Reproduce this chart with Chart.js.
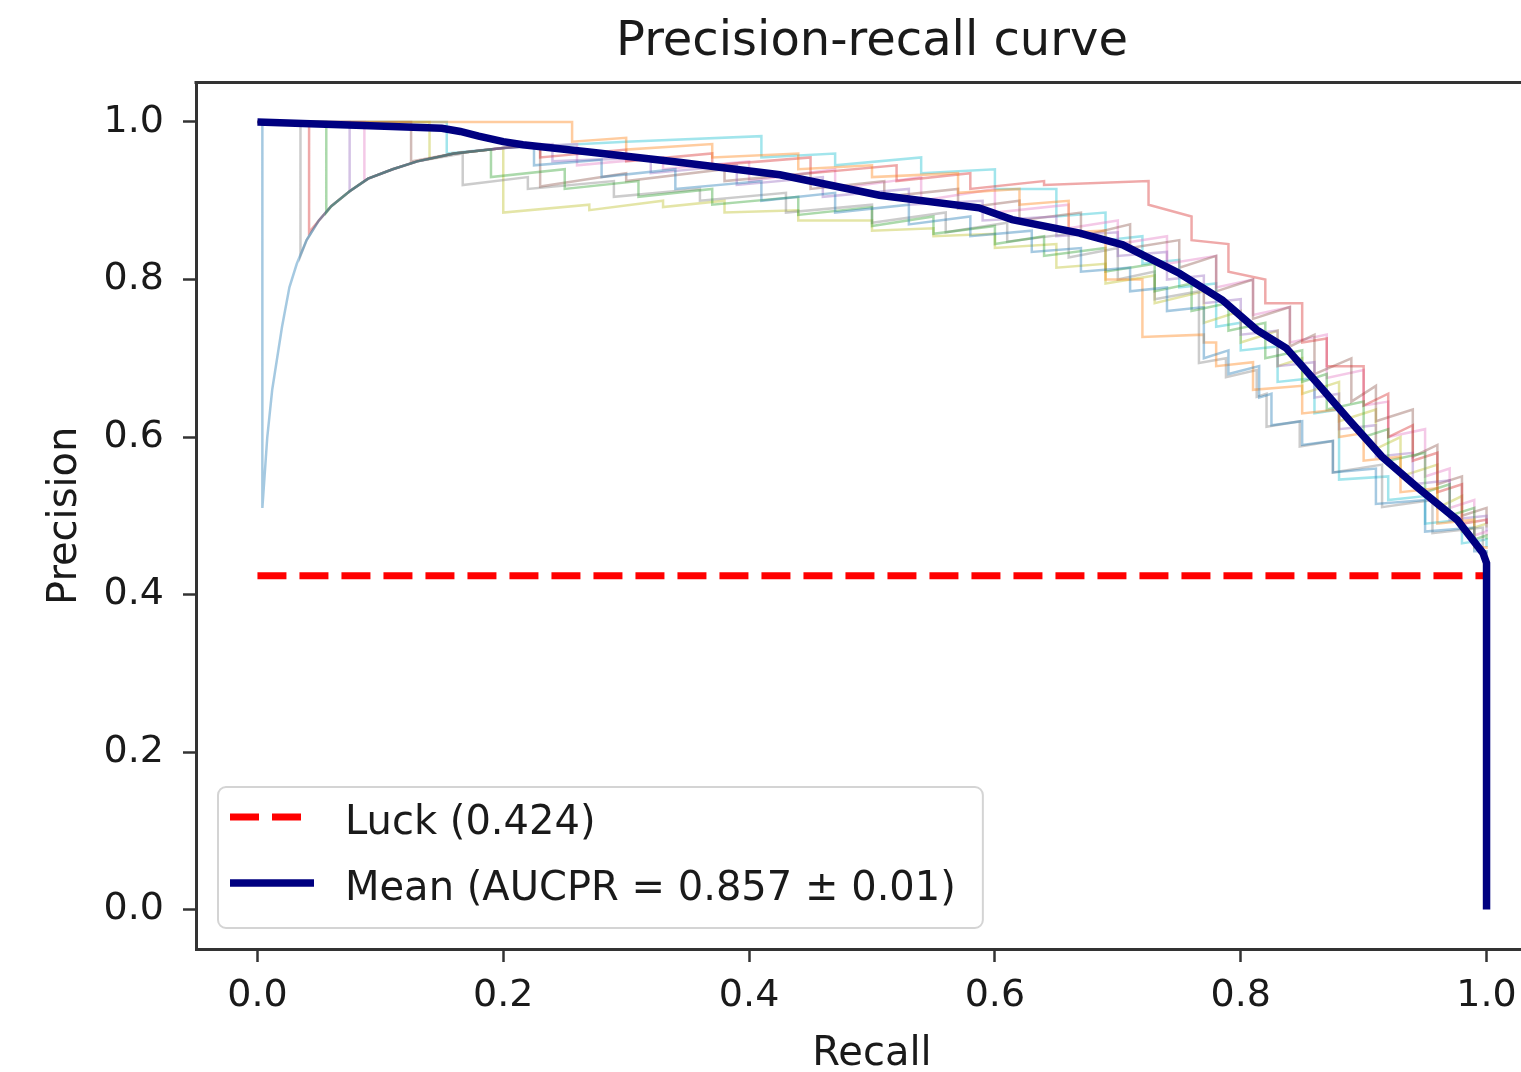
<!DOCTYPE html>
<html>
<head>
<meta charset="utf-8">
<title>Precision-recall curve</title>
<script src="https://cdn.jsdelivr.net/npm/chart.js@4.4.0/dist/chart.umd.min.js"></script>
<style>
  html, body { margin: 0; padding: 0; background: #fff; overflow: hidden; }
  #wrap { width: 1521px; height: 1072px; overflow: hidden; position: relative; }
  canvas { display: block; }
</style>
</head>
<body>
<div id="wrap"><canvas id="prChart" width="1560" height="1072"></canvas></div>
<script>
const ctxPR = document.getElementById("prChart").getContext("2d");

const tickValues = [0, 0.2, 0.4, 0.6, 0.8, 1.0];
const tickLabels = ["0.0", "0.2", "0.4", "0.6", "0.8", "1.0"];

const luckRecall = [0, 1];
const luckPrecision = [0.424, 0.424];

const meanRecall = [0, 0.08, 0.15, 0.165, 0.18, 0.2, 0.216, 0.27, 0.343, 0.425, 0.506, 0.587, 0.614, 0.669, 0.704, 0.723, 0.75, 0.785, 0.813, 0.837, 0.862, 0.888, 0.915, 0.943, 0.976, 0.997, 1.0, 1.0];
const meanPrecision = [1.0, 0.996, 0.992, 0.988, 0.982, 0.975, 0.971, 0.962, 0.949, 0.933, 0.907, 0.891, 0.876, 0.859, 0.844, 0.829, 0.808, 0.774, 0.736, 0.713, 0.669, 0.622, 0.575, 0.537, 0.495, 0.453, 0.44, 0.0];

const foldColors = [
  "rgba(31,119,180,0.4)", "rgba(255,127,14,0.4)", "rgba(44,160,44,0.4)",
  "rgba(214,39,40,0.4)", "rgba(148,103,189,0.4)", "rgba(140,86,75,0.4)",
  "rgba(227,119,194,0.4)", "rgba(127,127,127,0.4)", "rgba(188,189,34,0.4)",
  "rgba(23,190,207,0.4)"
];

// each fold: [recall, precision before the drop, precision after the drop]
const foldBlue = [[0,1,1],[0.004,1,0.51],[0.008,0.6,0.6],[0.012,0.66,0.66],[0.016,0.7,0.7],[0.02,0.74,0.74],[0.026,0.79,0.79],[0.032,0.82,0.82],[0.04,0.85,0.85],[0.05,0.875,0.875],[0.06,0.893,0.893],[0.075,0.912,0.912],[0.09,0.928,0.928],[0.11,0.94,0.94],[0.13,0.95,0.95],[0.16,0.96,0.96],[0.2,0.967,0.967],[0.225,0.97,0.945],[0.28,0.952,0.93],[0.34,0.94,0.915],[0.41,0.925,0.9],[0.47,0.91,0.885],[0.53,0.895,0.87],[0.58,0.88,0.855],[0.63,0.862,0.835],[0.67,0.84,0.81],[0.71,0.815,0.785],[0.74,0.79,0.76],[0.77,0.765,0.7],[0.79,0.71,0.68],[0.815,0.69,0.65],[0.825,0.655,0.615],[0.85,0.62,0.59],[0.875,0.595,0.555],[0.91,0.56,0.515],[0.95,0.52,0.48],[0.99,0.485,0.455],[1.0,0.455,0.452]];
const foldOrange = [[0,1,1],[0.256,1,0.975],[0.3,0.98,0.965],[0.37,0.972,0.955],[0.44,0.96,0.94],[0.5,0.945,0.93],[0.57,0.935,0.91],[0.62,0.915,0.895],[0.66,0.9,0.86],[0.69,0.862,0.8],[0.72,0.8,0.727],[0.77,0.73,0.72],[0.78,0.72,0.69],[0.81,0.695,0.66],[0.85,0.665,0.63],[0.88,0.635,0.6],[0.9,0.605,0.57],[0.93,0.575,0.53],[0.96,0.535,0.49],[0.99,0.495,0.46],[1.0,0.46,0.458]];
const foldGreen = [[0,1,1],[0.056,1,0.885],[0.06,0.893,0.893],[0.075,0.912,0.912],[0.09,0.928,0.928],[0.11,0.94,0.94],[0.13,0.95,0.95],[0.16,0.96,0.96],[0.19,0.965,0.93],[0.25,0.94,0.915],[0.31,0.925,0.905],[0.37,0.915,0.895],[0.44,0.905,0.882],[0.5,0.892,0.868],[0.55,0.88,0.858],[0.6,0.868,0.845],[0.64,0.855,0.83],[0.69,0.84,0.81],[0.73,0.82,0.785],[0.76,0.795,0.76],[0.79,0.77,0.735],[0.82,0.745,0.7],[0.85,0.71,0.67],[0.87,0.68,0.635],[0.9,0.645,0.6],[0.92,0.61,0.57],[0.95,0.58,0.53],[0.97,0.54,0.5],[0.99,0.51,0.47],[1.0,0.475,0.47]];
const foldRed = [[0,1,1],[0.042,1,0.86],[0.05,0.875,0.875],[0.06,0.893,0.893],[0.075,0.912,0.912],[0.09,0.928,0.928],[0.11,0.94,0.94],[0.13,0.95,0.95],[0.16,0.96,0.96],[0.2,0.967,0.967],[0.23,0.972,0.955],[0.3,0.965,0.95],[0.37,0.96,0.945],[0.45,0.955,0.935],[0.52,0.945,0.925],[0.58,0.935,0.915],[0.64,0.925,0.92],[0.725,0.925,0.895],[0.76,0.88,0.85],[0.79,0.845,0.81],[0.82,0.8,0.77],[0.85,0.77,0.72],[0.87,0.725,0.69],[0.9,0.69,0.64],[0.92,0.655,0.6],[0.94,0.615,0.57],[0.96,0.58,0.53],[0.98,0.54,0.49],[1.0,0.495,0.49]];
const foldPurple = [[0,1,1],[0.075,1,0.912],[0.09,0.928,0.928],[0.11,0.94,0.94],[0.13,0.95,0.95],[0.16,0.96,0.96],[0.2,0.967,0.967],[0.24,0.972,0.95],[0.32,0.955,0.935],[0.39,0.945,0.92],[0.46,0.93,0.905],[0.53,0.915,0.895],[0.59,0.9,0.875],[0.65,0.88,0.855],[0.7,0.86,0.83],[0.74,0.835,0.8],[0.77,0.805,0.77],[0.8,0.775,0.73],[0.83,0.735,0.69],[0.86,0.695,0.65],[0.88,0.655,0.61],[0.91,0.615,0.575],[0.94,0.58,0.54],[0.97,0.545,0.495],[1.0,0.5,0.48]];
const foldBrown = [[0,1,1],[0.125,1,0.95],[0.16,0.96,0.96],[0.2,0.967,0.967],[0.23,0.97,0.918],[0.3,0.935,0.925],[0.38,0.94,0.925],[0.45,0.935,0.915],[0.51,0.925,0.905],[0.57,0.915,0.89],[0.62,0.9,0.875],[0.67,0.885,0.855],[0.71,0.87,0.84],[0.75,0.85,0.815],[0.78,0.83,0.785],[0.81,0.8,0.75],[0.84,0.765,0.715],[0.86,0.73,0.68],[0.89,0.7,0.645],[0.91,0.665,0.62],[0.94,0.635,0.575],[0.96,0.59,0.54],[0.98,0.55,0.5],[1.0,0.51,0.49]];
const foldPink = [[0,1,1],[0.087,1,0.925],[0.09,0.928,0.928],[0.11,0.94,0.94],[0.13,0.95,0.95],[0.16,0.96,0.96],[0.2,0.967,0.967],[0.26,0.972,0.945],[0.33,0.955,0.94],[0.4,0.95,0.925],[0.47,0.94,0.915],[0.54,0.93,0.9],[0.6,0.915,0.885],[0.66,0.895,0.865],[0.7,0.875,0.845],[0.74,0.855,0.82],[0.78,0.83,0.79],[0.81,0.8,0.755],[0.84,0.765,0.72],[0.87,0.73,0.675],[0.9,0.685,0.64],[0.92,0.645,0.6],[0.95,0.61,0.55],[0.97,0.56,0.51],[0.99,0.52,0.475],[1.0,0.48,0.475]];
const foldGray = [[0,1,1],[0.035,1,0.83],[0.04,0.85,0.85],[0.05,0.875,0.875],[0.06,0.893,0.893],[0.075,0.912,0.912],[0.09,0.928,0.928],[0.11,0.94,0.94],[0.13,0.95,0.95],[0.167,0.96,0.92],[0.22,0.93,0.915],[0.29,0.925,0.905],[0.36,0.915,0.9],[0.43,0.91,0.885],[0.5,0.895,0.872],[0.56,0.885,0.86],[0.61,0.872,0.848],[0.66,0.858,0.828],[0.7,0.84,0.8],[0.73,0.81,0.775],[0.766,0.785,0.694],[0.788,0.7,0.676],[0.813,0.685,0.651],[0.821,0.655,0.613],[0.848,0.62,0.588],[0.875,0.595,0.555],[0.915,0.565,0.511],[0.956,0.52,0.478],[0.997,0.485,0.453],[1.0,0.453,0.45]];
const foldOlive = [[0,1,1],[0.14,1,0.953],[0.16,0.96,0.96],[0.2,0.967,0.885],[0.27,0.895,0.888],[0.33,0.9,0.892],[0.38,0.9,0.885],[0.44,0.888,0.875],[0.5,0.875,0.862],[0.55,0.865,0.855],[0.6,0.858,0.84],[0.65,0.845,0.815],[0.69,0.82,0.795],[0.73,0.805,0.77],[0.77,0.785,0.745],[0.8,0.76,0.72],[0.83,0.735,0.69],[0.85,0.7,0.655],[0.88,0.67,0.62],[0.91,0.635,0.585],[0.93,0.6,0.55],[0.96,0.565,0.51],[0.98,0.525,0.48],[1.0,0.49,0.485]];
const foldCyan = [[0,1,1],[0.154,1,0.96],[0.2,0.967,0.967],[0.3,0.975,0.975],[0.41,0.982,0.955],[0.47,0.96,0.945],[0.54,0.955,0.935],[0.6,0.94,0.915],[0.65,0.915,0.88],[0.69,0.885,0.85],[0.72,0.855,0.82],[0.75,0.825,0.79],[0.78,0.795,0.74],[0.8,0.745,0.71],[0.83,0.715,0.67],[0.86,0.675,0.63],[0.88,0.635,0.546],[0.92,0.55,0.52],[0.95,0.525,0.49],[0.98,0.495,0.465],[1.0,0.47,0.46]];

const folds = [foldBlue, foldOrange, foldGreen, foldRed, foldPurple, foldBrown, foldPink, foldGray, foldOlive, foldCyan];

const FONT = '"DejaVu Sans", sans-serif';
const TEXT = "#1a1a1a";
const AXIS = "#333333";

const toPoints = (xs, ys) => xs.map((x, i) => ({ x, y: ys[i] }));
const stepPoints = fold => fold.flatMap(([r, a, b]) => [{ x: r, y: a }, { x: r, y: b }]);

const foldSets = folds.map((f, i) => ({
  label: "Fold " + (i + 1),
  data: stepPoints(f),
  borderColor: foldColors[i],
  borderWidth: 2.5,
  pointRadius: 0,
  fill: false,
  order: 3
}));

// matplotlib-like legend box, bottom left inside the axes
const legendBox = {
  id: "legendBox",
  afterDatasetsDraw(chart) {
    const { ctx, chartArea } = chart;
    const items = chart.data.datasets.filter(d => d.inLegend);
    ctx.save();
    ctx.font = "40px " + FONT;
    const textW = Math.max(...items.map(d => ctx.measureText(d.label).width));
    const x0 = chartArea.left + 22;
    const h = 141;
    const y0 = chartArea.bottom - 21 - h;
    const w = 127 + textW + 27;
    ctx.beginPath();
    ctx.roundRect(x0, y0, w, h, 8);
    ctx.fillStyle = "rgba(255,255,255,0.8)";
    ctx.fill();
    ctx.lineWidth = 2;
    ctx.strokeStyle = "#d4d4d4";
    ctx.stroke();
    items.forEach((d, i) => {
      const cy = y0 + 30 + i * 66;
      ctx.beginPath();
      ctx.setLineDash(d.borderDash || []);
      ctx.lineWidth = d.borderWidth;
      ctx.strokeStyle = d.borderColor;
      ctx.moveTo(x0 + 12, cy);
      ctx.lineTo(x0 + 96, cy);
      ctx.stroke();
      ctx.setLineDash([]);
      ctx.fillStyle = TEXT;
      ctx.textBaseline = "middle";
      ctx.textAlign = "left";
      ctx.fillText(d.label, x0 + 127, cy + 7);
    });
    ctx.restore();
  }
};

// top spine (the right one falls outside the cropped picture)
const topSpine = {
  id: "topSpine",
  afterDraw(chart) {
    const { ctx, chartArea: a } = chart;
    ctx.save();
    ctx.strokeStyle = AXIS;
    ctx.lineWidth = 3;
    ctx.beginPath();
    ctx.moveTo(a.left - 1.5, a.top);
    ctx.lineTo(a.right, a.top);
    ctx.stroke();
    ctx.restore();
  }
};

new Chart(ctxPR, {
  type: "line",
  data: {
    datasets: [
      ...foldSets,
      {
        label: "Luck (0.424)",
        data: toPoints(luckRecall, luckPrecision),
        borderColor: "#ff0000",
        borderWidth: 7,
        borderDash: [29, 13],
        pointRadius: 0,
        fill: false,
        order: 2,
        inLegend: true
      },
      {
        label: "Mean (AUCPR = 0.857 \u00b1 0.01)",
        data: toPoints(meanRecall, meanPrecision),
        borderColor: "#000080",
        borderWidth: 7.5,
        pointRadius: 0,
        fill: false,
        order: 1,
        inLegend: true
      }
    ]
  },
  options: {
    responsive: false,
    animation: false,
    layout: { padding: { left: 0, right: 12, top: 0, bottom: 0 } },
    plugins: {
      legend: { display: false },
      tooltip: { enabled: false },
      title: {
        display: true,
        text: "Precision-recall curve",
        fullSize: false,
        color: TEXT,
        font: { family: FONT, size: 48, weight: "normal", lineHeight: 1.2 },
        padding: { top: 14, bottom: 11 }
      }
    },
    scales: {
      x: {
        type: "linear",
        min: -0.05,
        max: 1.05,
        afterBuildTicks: s => { s.ticks = tickValues.map(v => ({ value: v })); },
        afterFit: s => { s.height = 123; },
        ticks: {
          callback: (v, i) => tickLabels[i],
          font: { family: FONT, size: 38 },
          color: TEXT,
          padding: 11,
          maxRotation: 0,
          autoSkip: false
        },
        grid: { display: true, drawOnChartArea: false, drawTicks: true, tickLength: 13, tickWidth: 2.5, tickColor: AXIS },
        border: { display: true, color: AXIS, width: 3 },
        title: {
          display: true,
          text: "Recall",
          color: TEXT,
          font: { family: FONT, size: 40 },
          padding: { top: 0, bottom: -7 }
        }
      },
      y: {
        type: "linear",
        min: -0.05,
        max: 1.05,
        afterBuildTicks: s => { s.ticks = tickValues.map(v => ({ value: v })); },
        afterFit: s => { s.width = 196; },
        ticks: {
          callback: (v, i) => tickLabels[i],
          font: { family: FONT, size: 38 },
          color: TEXT,
          padding: 19,
          autoSkip: false
        },
        grid: { display: true, drawOnChartArea: false, drawTicks: true, tickLength: 13, tickWidth: 2.5, tickColor: AXIS },
        border: { display: true, color: AXIS, width: 3 },
        title: {
          display: true,
          text: "Precision",
          color: TEXT,
          font: { family: FONT, size: 40 },
          padding: { top: 42, bottom: 0 }
        }
      }
    }
  },
  plugins: [legendBox, topSpine]
});
</script>
</body>
</html>
